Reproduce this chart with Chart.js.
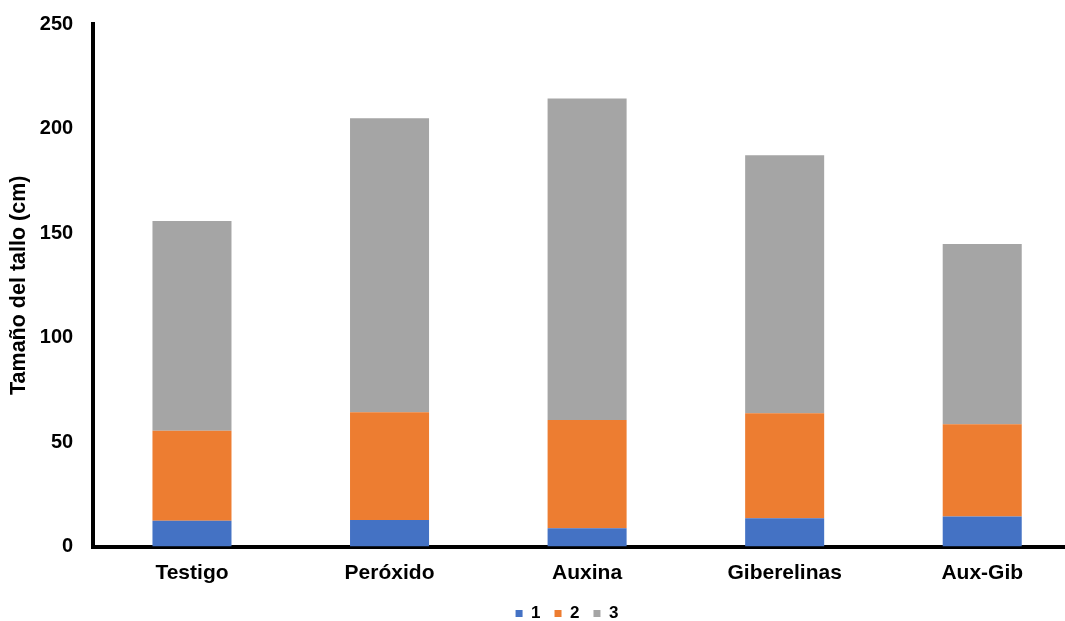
<!DOCTYPE html>
<html>
<head>
<meta charset="utf-8">
<script src="https://cdn.jsdelivr.net/npm/chart.js@4"></script>
<style>
  html, body { margin: 0; padding: 0; background: #fff; overflow: hidden; width: 1065px; height: 621px; }
  canvas { display: block; }
</style>
</head>
<body>
<canvas id="c" width="1081" height="621" style="width:1081px;height:621px"></canvas>
<script>
const categories = ["Testigo", "Peróxido", "Auxina", "Giberelinas", "Aux-Gib"];
const seriesNames = ["1", "2", "3"];
const series1 = [12.3, 12.7, 8.7, 13.5, 14.3];
const series2 = [43.1, 51.5, 51.8, 50.2, 44.2];
const series3 = [100.3, 140.7, 153.9, 123.5, 86.2];
const yTicks = [0, 50, 100, 150, 200, 250];
const yTitle = "Tamaño del tallo (cm)";

const colors = ["#4472C4", "#ED7D31", "#A5A5A5"];
const FONT = "'Liberation Sans', Arial, sans-serif";

const legendShift = {
  id: 'legendShift',
  afterUpdate(chart) {
    const lg = chart.legend;
    if (!lg) return;
    const dx = 567 - (lg.left + lg.right) / 2;
    lg.left += dx; lg.right += dx;
    const dy = 591 - lg.top;
    lg.top += dy; lg.bottom += dy;
  }
};

new Chart(document.getElementById('c'), {
  type: 'bar',
  data: {
    labels: categories,
    datasets: [series1, series2, series3].map((d, i) => ({
      label: seriesNames[i],
      data: d,
      backgroundColor: colors[i],
      borderWidth: 0,
      barPercentage: 0.5,
      categoryPercentage: 0.8
    }))
  },
  options: {
    responsive: false,
    animation: false,
    layout: { autoPadding: false, padding: { left: 2.4, right: 0, top: 24, bottom: -19.7 } },
    plugins: {
      legend: {
        position: 'bottom',
        labels: {
          boxWidth: 7, boxHeight: 7, padding: 14,
          color: '#000',
          font: { family: FONT, size: 17, weight: 'bold' }
        }
      },
      tooltip: { enabled: false }
    },
    scales: {
      x: {
        stacked: true,
        z: 1,
        grid: { display: false, drawTicks: false },
        border: { display: true, color: '#000', width: 4 },
        ticks: {
          color: '#000', padding: 14,
          font: { family: FONT, size: 21, weight: 'bold' }
        }
      },
      y: {
        stacked: true,
        z: 1,
        min: 0, max: 250,
        afterBuildTicks(axis) { axis.ticks = yTicks.map(v => ({ value: v })); },
        afterFit(axis) { axis.width = 90.8; axis.paddingTop = 12; axis.paddingBottom = 12; },
        grid: { display: false, drawTicks: false },
        border: { display: true, color: '#000', width: 4 },
        ticks: {
          color: '#000', padding: 20,
          font: { family: FONT, size: 20, weight: 'bold' }
        },
        title: {
          display: true, text: yTitle, color: '#000',
          padding: { top: 4, bottom: 8 },
          font: { family: FONT, size: 21.5, weight: 'bold' }
        }
      }
    }
  },
  plugins: [legendShift]
});
</script>
</body>
</html>
